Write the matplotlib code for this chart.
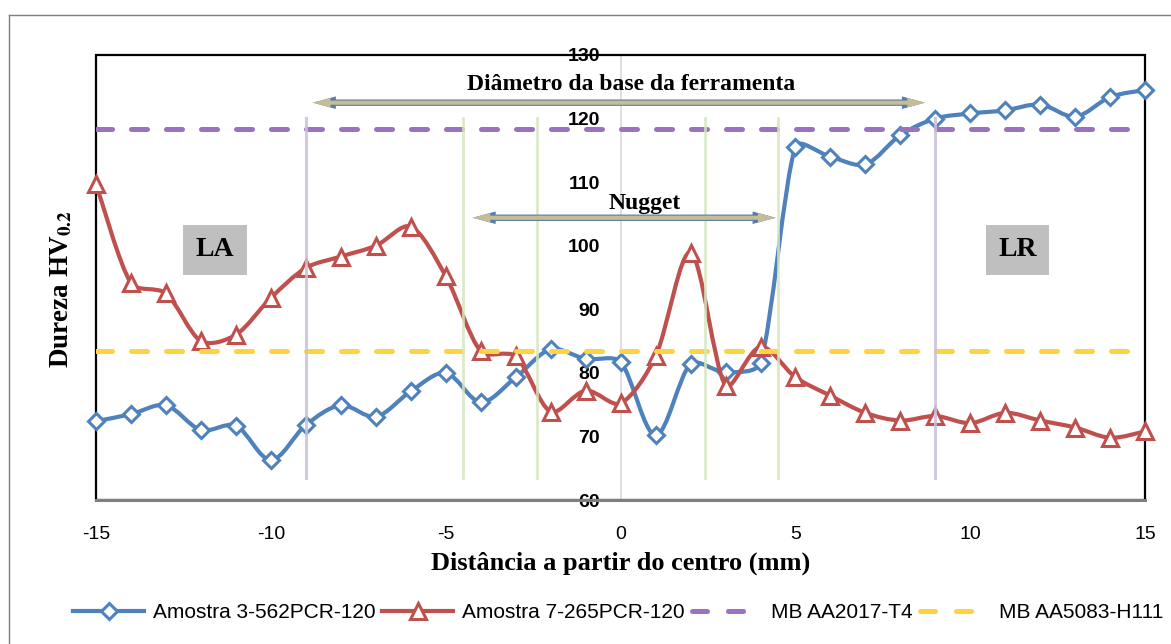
import numpy as np
import matplotlib
matplotlib.use("Agg")
import matplotlib.pyplot as plt
from matplotlib.path import Path
from matplotlib.patches import PathPatch, Rectangle
from matplotlib.lines import Line2D

plt.rcParams['mathtext.fontset'] = 'stix'
plt.rcParams['axes.unicode_minus'] = False

# distance from the weld centre (mm)
dist = list(range(-15, 16))

# hardness profiles HV0.2
amostra3 = [72.4, 73.5, 74.9, 71.0, 71.7, 66.3, 71.8, 74.9, 73.1, 77.1, 80.0,
            75.4, 79.3, 83.7, 82.2, 81.7, 70.2, 81.4, 80.1, 81.6, 115.6,
            114.0, 112.8, 117.4, 120.0, 120.8, 121.3, 122.2, 120.3, 123.4, 124.5]
amostra7 = [109.7, 94.1, 92.5, 85.0, 86.0, 91.8, 96.5, 98.3, 100.0, 103.0, 95.2,
            83.4, 82.6, 73.9, 77.2, 75.2, 82.6, 98.9, 78.0, 84.1, 79.3,
            76.4, 73.7, 72.5, 73.2, 72.1, 73.7, 72.5, 71.4, 69.8, 70.8]

# base material hardness
mb_2017 = 118.3
mb_5083 = 83.4

series_names = ['Amostra 3-562PCR-120', 'Amostra 7-265PCR-120',
                'MB AA2017-T4', 'MB AA5083-H111']

# zone limits (mm)
tool_edges = [-9, 9]
nugget_edges = [-4.5, -2.4, 2.4, 4.5]

BLUE = '#4F81BD'
RED = '#C0504D'
PURPLE = '#9B72C2'
YELLOW = '#FFD23F'

SERIF = ['Liberation Serif', 'DejaVu Serif']
SANS = ['Liberation Sans', 'DejaVu Sans']

# rough px per unit on each axis, used only to weight the curve tangents
XS, YS = 35.0, 6.36


def smooth_path(x, y):
    # cubic bezier through every point (smoothed line), tangents shortened
    # next to a short segment so the curve does not overshoot a big jump
    n = len(x)
    px = [v * XS for v in x]
    py = [v * YS for v in y]
    seg = [np.hypot(px[i + 1] - px[i], py[i + 1] - py[i]) for i in range(n - 1)]

    def tangent(i):
        a = max(i - 1, 0)
        b = min(i + 1, n - 1)
        return (x[b] - x[a]) / 6, (y[b] - y[a]) / 6

    def weight(i, side):
        if i == 0 or i == n - 1:
            return 1.0
        d_prev, d_next = seg[i - 1], seg[i]
        d = d_next if side == 'out' else d_prev
        return min(1.0, 2 * d / (d_prev + d_next))

    verts = [(x[0], y[0])]
    codes = [Path.MOVETO]
    for i in range(n - 1):
        tx0, ty0 = tangent(i)
        tx1, ty1 = tangent(i + 1)
        w0 = weight(i, 'out')
        w1 = weight(i + 1, 'in')
        c1 = (x[i] + tx0 * w0, y[i] + ty0 * w0)
        c2 = (x[i + 1] - tx1 * w1, y[i + 1] - ty1 * w1)
        verts += [c1, c2, (x[i + 1], y[i + 1])]
        codes += [Path.CURVE4] * 3
    return Path(verts, codes)


fig = plt.figure(figsize=(11.71, 6.44), dpi=100)
ax = fig.add_axes([0.082, 0.2236, 0.896, 0.691])
ax.set_xlim(-15, 15)
ax.set_ylim(60, 130)

# blue series
ax.add_patch(PathPatch(smooth_path(dist, amostra3), fill=False, ec=BLUE, lw=3.0,
                       zorder=3, capstyle='round', joinstyle='round', clip_on=False))
ax.plot(dist, amostra3, ls='none', marker='D', ms=8.5, mfc='white', mec=BLUE,
        mew=2.2, zorder=4, clip_on=False)

# red series
ax.add_patch(PathPatch(smooth_path(dist, amostra7), fill=False, ec=RED, lw=3.0,
                       zorder=5, capstyle='round', joinstyle='round', clip_on=False))
ax.plot(dist, amostra7, ls='none', marker='^', ms=11.5, mfc='white', mec=RED,
        mew=2.2, zorder=6, clip_on=False)

dash_kw = dict(lw=3.6, dashes=(3.2, 3.8), dash_capstyle='round', zorder=7)
ax.axhline(mb_2017, color=PURPLE, **dash_kw)
ax.axhline(mb_5083, color=YELLOW, **dash_kw)

# zone marker lines
for xv in tool_edges:
    ax.plot([xv, xv], [63.5, 120.1], color='#C9C0D9', lw=2.2, alpha=0.85, zorder=8)
for xv in nugget_edges:
    ax.plot([xv, xv], [63.5, 120.1], color='#D5E6BE', lw=2.0, alpha=0.85, zorder=8)

# double arrows: blue-grey outline under a khaki body
for x0, x1, yv in [(-8.8, 8.7, 122.5), (-4.23, 4.43, 104.4)]:
    for lw, col in [(4.6, '#5A7BA6'), (3.0, '#C4BD97')]:
        ax.annotate('', xy=(x1, yv), xytext=(x0, yv),
                    arrowprops=dict(arrowstyle='<|-|>,head_length=0.55,head_width=0.15',
                                    color=col, lw=lw, shrinkA=0, shrinkB=0,
                                    mutation_scale=10, capstyle='butt',
                                    joinstyle='miter'),
                    zorder=9)
ax.text(0.3, 125.3, 'Diâmetro da base da ferramenta', ha='center', va='center',
        fontsize=17, fontweight='bold', family=SERIF, zorder=10)
ax.text(0.7, 106.6, 'Nugget', ha='center', va='center', fontsize=17,
        fontweight='bold', family=SERIF, zorder=10)

for lab, xc in [('LA', -11.6), ('LR', 11.35)]:
    ax.text(xc, 99.4, lab, ha='center', va='center', fontsize=20,
            fontweight='bold', family=SERIF, zorder=10,
            bbox=dict(boxstyle='square,pad=0.45', fc='#BFBFBF', ec='none'))

# axes: y axis crosses at x = 0, plot area framed in black
ax.spines['left'].set_position(('data', 0))
ax.spines['left'].set_color('#D9D9D9')
ax.spines['left'].set_linewidth(1.2)
ax.spines['left'].set_zorder(1)
for s in ['top', 'right']:
    ax.spines[s].set_visible(False)
ax.spines['bottom'].set_color('#7F7F7F')
ax.spines['bottom'].set_linewidth(2.2)
ax.add_patch(Rectangle((0, 0), 1, 1, transform=ax.transAxes, fill=False,
                       ec='black', lw=1.6, zorder=2, clip_on=False))

ax.set_yticks(range(60, 131, 10))
ax.set_xticks(range(-15, 16, 5))
ax.tick_params(axis='y', length=0, pad=15)
ax.tick_params(axis='x', length=0, pad=19)
for t in ax.get_yticklabels():
    t.set_family(SANS)
    t.set_fontweight('bold')
    t.set_fontsize(14)
for t in ax.get_xticklabels():
    t.set_family(SANS)
    t.set_fontsize(14)

ax.set_xlabel('Distância a partir do centro (mm)', fontsize=19, fontweight='bold',
              family=SERIF, labelpad=6)
fig.text(0.053, 0.551, r'Dureza HV$_{\mathbf{0.2}}$', rotation=90, ha='center',
         va='center', fontsize=19.5, fontweight='bold', family=SERIF)

handles = [
    Line2D([], [], color=BLUE, lw=3.0, marker='D', ms=8.5, mfc='white', mec=BLUE, mew=2.2),
    Line2D([], [], color=RED, lw=3.0, marker='^', ms=11, mfc='white', mec=RED, mew=2.2),
    Line2D([], [], color=PURPLE, lw=3.6, dashes=(3.0, 4.2), dash_capstyle='round'),
    Line2D([], [], color=YELLOW, lw=3.6, dashes=(3.0, 4.2), dash_capstyle='round'),
]
fig.legend(handles, series_names, loc='center', bbox_to_anchor=(0.528, 0.049),
           ncol=4, frameon=False, prop={'family': SANS, 'size': 15},
           handlelength=3.4, handletextpad=0.4, columnspacing=0.35)

# chart frame
fig.add_artist(Line2D([0.008, 0.008], [0, 0.977], color='#7F7F7F', lw=1.0))
fig.add_artist(Line2D([0.008, 1.0], [0.977, 0.977], color='#7F7F7F', lw=1.0))

fig.savefig('out.png', dpi=100)
